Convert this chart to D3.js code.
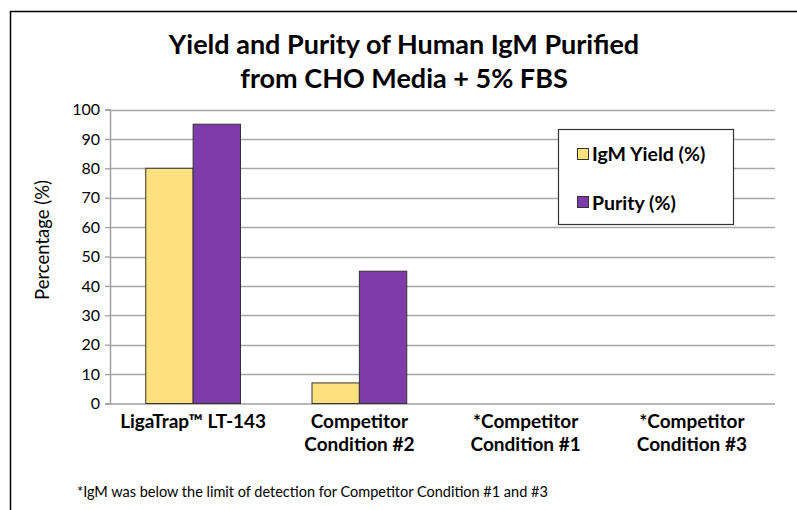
<!DOCTYPE html>
<html>
<head>
<meta charset="utf-8">
<script src="https://cdn.jsdelivr.net/npm/d3@7"></script>
<style>
  body{margin:0;background:#fff;}
  text{font-family:Lato,"Open Sans",sans-serif;fill:#000;}
</style>
</head>
<body>
<div id="grafico"></div>
<script>
const categorias=[["LigaTrap™ LT-143"],["Competitor","Condition #2"],["*Competitor","Condition #1"],["*Competitor","Condition #3"]];
const series=["IgM Yield (%)","Purity (%)"];
const rendimento=[80,7,null,null]; // IgM yield
const pureza=[95,45,null,null]; // purity
const ticksY=[0,10,20,30,40,50,60,70,80,90,100];
const cores=["#FFE07F","#7E3CAA"];

const largura=797, altura=510;
const mg={top:109.5,left:110,right:775,bottom:403.5};

const svg=d3.select('#grafico').append('svg')
  .attr('width',largura).attr('height',altura);

// moldura (so em cima e na esquerda)
svg.append('path')
  .attr('d','M10.5 510 L10.5 11.5 L797 11.5')
  .attr('fill','none').attr('stroke','#000').attr('stroke-width',1.5);

// titulo
const titulo=svg.append('text').attr('text-anchor','middle')
  .attr('font-weight','bold').attr('font-size','27px');
titulo.append('tspan').attr('x',404).attr('y',54).text('Yield and Purity of Human IgM Purified');
titulo.append('tspan').attr('x',404).attr('y',88).text('from CHO Media + 5% FBS');

const y=d3.scaleLinear().domain([0,100]).range([mg.bottom,mg.top]);
const x0=d3.scaleBand().domain(d3.range(categorias.length))
  .range([mg.left,mg.right]).paddingInner(0.43).paddingOuter(0.215);
const x1=d3.scaleBand().domain(series).range([0,x0.bandwidth()]);

// grade
svg.append('g').selectAll('line').data(ticksY.slice(1)).join('line')
  .attr('x1',mg.left).attr('x2',mg.right)
  .attr('y1',d=>Math.round(y(d))+0.5).attr('y2',d=>Math.round(y(d))+0.5)
  .attr('stroke','#a8a8a8').attr('stroke-width',1.3);

// eixo y
const eixoY=svg.append('g').attr('transform',`translate(${mg.left},0)`)
  .call(d3.axisLeft(y).tickValues(ticksY).tickSize(5).tickPadding(5));
eixoY.select('.domain').attr('stroke','#a0a0a0').attr('stroke-width',1.5);
eixoY.selectAll('.tick line').attr('stroke','#a0a0a0').attr('stroke-width',1.3);
eixoY.selectAll('.tick text').attr('font-size','16px').attr('font-family','Lato,"Open Sans",sans-serif').attr('fill','#000');

// eixo x (so a linha)
svg.append('line').attr('x1',mg.left).attr('x2',mg.right)
  .attr('y1',mg.bottom+0.5).attr('y2',mg.bottom+0.5)
  .attr('stroke','#a0a0a0').attr('stroke-width',1.5);

// titulo do eixo y
svg.append('text').attr('transform','translate(49,240) rotate(-90)')
  .attr('text-anchor','middle').attr('font-size','18.5px').text('Percentage (%)');

// barras
const dados=categorias.map((c,i)=>[rendimento[i],pureza[i]]);
const grupos=svg.append('g').selectAll('g').data(dados).join('g')
  .attr('transform',(d,i)=>`translate(${x0(i)},0)`);
grupos.selectAll('rect').data(d=>d.map((v,j)=>({v,j})).filter(e=>e.v!=null)).join('rect')
  .attr('x',e=>x1(series[e.j])).attr('width',x1.bandwidth())
  .attr('y',e=>y(e.v)).attr('height',e=>y(0)-y(e.v))
  .attr('fill',e=>cores[e.j]).attr('stroke','#333').attr('stroke-width',1);

// rotulos das categorias
const rot=svg.append('g').selectAll('text').data(categorias).join('text')
  .attr('text-anchor','middle').attr('font-weight','bold').attr('font-size','19px');
rot.each(function(c,i){
  const t=d3.select(this);
  c.forEach((linha,k)=>{
    t.append('tspan').attr('x',x0(i)+x0.bandwidth()/2).attr('y',428+k*23).text(linha);
  });
});

// legenda
const leg=svg.append('g');
leg.append('rect').attr('x',558.5).attr('y',129.5).attr('width',175).attr('height',95)
  .attr('fill','#fff').attr('stroke','#333').attr('stroke-width',1.2);
series.forEach((s,j)=>{
  leg.append('rect').attr('x',577.5).attr('y',148.5+j*48).attr('width',11).attr('height',11)
    .attr('fill',cores[j]).attr('stroke','#333').attr('stroke-width',1);
  leg.append('text').attr('x',592).attr('y',161+j*49)
    .attr('font-weight','bold').attr('font-size','19.5px').text(s);
});

// nota
svg.append('text').attr('x',77).attr('y',497).attr('font-size','14.5px')
  .text('*IgM was below the limit of detection for Competitor Condition #1 and #3');
</script>
</body>
</html>
